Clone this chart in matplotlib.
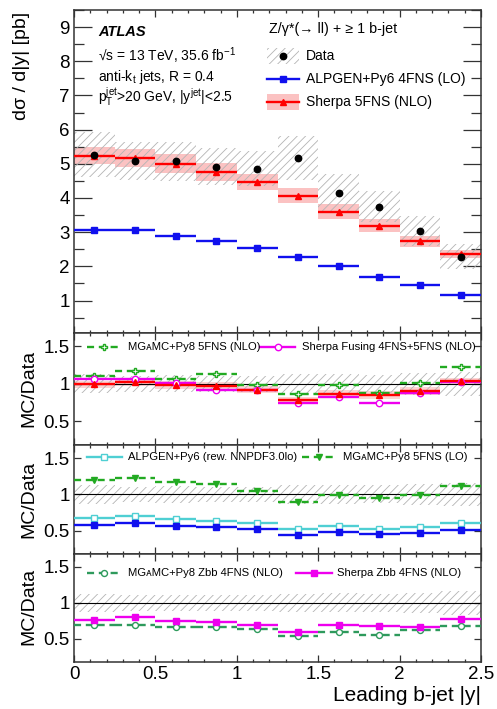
import numpy as np
import matplotlib
matplotlib.use('Agg')
import matplotlib.pyplot as plt
from matplotlib.patches import Rectangle
from matplotlib.lines import Line2D
from matplotlib.ticker import MultipleLocator, FuncFormatter, FixedLocator

plt.rcParams['font.family'] = ['Liberation Sans', 'DejaVu Sans']
plt.rcParams['mathtext.fontset'] = 'custom'
plt.rcParams['mathtext.rm'] = 'Liberation Sans'
plt.rcParams['mathtext.it'] = 'Liberation Sans:italic'
plt.rcParams['mathtext.bf'] = 'Liberation Sans:bold'
plt.rcParams['hatch.linewidth'] = 0.6

# ---------------- data ----------------
bin_edges = [0.0, 0.25, 0.5, 0.75, 1.0, 1.25, 1.5, 1.75, 2.0, 2.25, 2.5]

data = [5.26, 5.08, 5.08, 4.92, 4.86, 5.17, 4.16, 3.75, 3.04, 2.28]
data_err = [0.66, 0.55, 0.57, 0.53, 0.52, 0.65, 0.55, 0.46, 0.44, 0.37]
alpgen_4fns = [3.07, 3.05, 2.88, 2.74, 2.54, 2.27, 2.00, 1.69, 1.44, 1.17]
sherpa_5fns = [5.23, 5.17, 5.00, 4.76, 4.47, 4.07, 3.60, 3.19, 2.73, 2.36]
sherpa_5fns_err = [0.25, 0.25, 0.28, 0.27, 0.23, 0.21, 0.21, 0.185, 0.16, 0.11]

# ratio panel 1
mg5_5fns_nlo = [1.10, 1.17, 1.07, 1.13, 0.98, 0.86, 0.99, 0.87, 1.01, 1.22]
sherpa_fusing = [1.06, 1.07, 1.01, 0.92, 0.91, 0.74, 0.82, 0.74, 0.87, 1.03]
sherpa_fusing_err = [0.01, 0.01, 0.01, 0.01, 0.01, 0.015, 0.015, 0.04, 0.015, 0.01]
# ratio panel 2
mg5_5fns_lo = [1.20, 1.23, 1.17, 1.14, 1.05, 0.90, 0.99, 0.95, 0.99, 1.11]
alpgen_rew = [0.68, 0.70, 0.655, 0.64, 0.61, 0.52, 0.57, 0.52, 0.55, 0.61]
# ratio panel 3
mg5_zbb_4fns = [0.70, 0.70, 0.67, 0.67, 0.64, 0.545, 0.595, 0.56, 0.62, 0.685]
sherpa_zbb_4fns = [0.77, 0.80, 0.75, 0.74, 0.70, 0.60, 0.70, 0.68, 0.67, 0.775]

x_ticks = [0, 0.5, 1, 1.5, 2, 2.5]
ratio_ticks = [0.5, 1, 1.5]

# ---------------- helpers ----------------
edges = np.array(bin_edges)
lo, hi = edges[:-1], edges[1:]
centers = 0.5 * (lo + hi)
widths = hi - lo
d = np.array(data)
derr = np.array(data_err)

BLUE = '#1010ee'
RED = '#ff0000'
GREEN = '#22aa22'
SEAGREEN = '#2e9a5c'
MAGENTA = '#ee00ee'
CYAN = '#4fcfd3'
PINK = '#fbc2c2'
HATCH_C = '#b4b4b4'
DASH = (0, (3, 2))
LW = 1.7

W, H = 497, 709
fig = plt.figure(figsize=(W / 100, H / 100), dpi=100)


def px_axes(x0, y0, x1, y1):
    return fig.add_axes([x0 / W, 1 - y1 / H, (x1 - x0) / W, (y1 - y0) / H])


ax0 = px_axes(74, 10, 481, 333)
ax1 = px_axes(74, 333, 481, 445)
ax2 = px_axes(74, 445, 481, 554)
ax3 = px_axes(74, 554, 481, 662)

fmt = FuncFormatter(lambda v, p: f"{v:g}")

for ax in (ax0, ax1, ax2, ax3):
    ax.set_xlim(bin_edges[0], bin_edges[-1])
    ax.xaxis.set_major_locator(FixedLocator(x_ticks))
    ax.xaxis.set_minor_locator(MultipleLocator(0.1))
    ax.xaxis.set_major_formatter(fmt)
    ax.tick_params(axis='both', which='both', direction='in', top=True, right=True,
                   labelsize=13.5, width=0.9, color='#333333', pad=3)
    ax.tick_params(axis='x', which='major', length=5)
    ax.tick_params(axis='x', which='minor', length=2.5)
    for s in ax.spines.values():
        s.set_linewidth(1.1)
        s.set_color('#333333')
    if ax is not ax3:
        ax.tick_params(axis='x', labelbottom=False)

# ---------------- top panel ----------------
ax0.set_ylim(0.05, 9.5)
ax0.yaxis.set_major_locator(MultipleLocator(1))
ax0.yaxis.set_minor_locator(MultipleLocator(0.5))
ax0.yaxis.set_major_formatter(fmt)
ax0.tick_params(axis='y', which='major', length=13)
ax0.tick_params(axis='y', which='minor', length=7)
ax0.set_yticks([1, 2, 3, 4, 5, 6, 7, 8, 9])

sh = np.array(sherpa_5fns)
sherr = np.array(sherpa_5fns_err)
ax0.bar(centers, 2 * sherr, bottom=sh - sherr, width=widths, color=PINK, lw=0, zorder=1)
ax0.bar(centers, 2 * derr, bottom=d - derr, width=widths, fill=False, hatch='////',
        edgecolor=HATCH_C, lw=0, zorder=2)
ax0.hlines(sh, lo, hi, colors=RED, lw=LW, zorder=3)
ax0.plot(centers, sh, ls='none', marker='^', color=RED, ms=4.5, zorder=4)
ax0.hlines(alpgen_4fns, lo, hi, colors=BLUE, lw=LW, zorder=3)
ax0.plot(centers, alpgen_4fns, ls='none', marker='s', color=BLUE, ms=4.2, zorder=4)
ax0.plot(centers, d, ls='none', marker='o', color='black', ms=4.6, zorder=5)

# labels/text in top panel
t = ax0.transAxes
ax0.text(0.059, 0.932, 'ATLAS', transform=t, fontsize=10.5, fontweight='bold',
         style='italic', va='center', ha='left')
ax0.text(0.059, 0.858, '√s = 13 TeV, 35.6 fb$^{-1}$', transform=t, fontsize=10,
         va='center', ha='left')
ax0.text(0.059, 0.793, 'anti-k$_{\\mathrm{t}}$ jets, R = 0.4', transform=t, fontsize=10,
         va='center', ha='left')
ax0.text(0.059, 0.728, 'p$_{\\mathrm{T}}^{\\mathrm{jet}}$>20 GeV, |y$^{\\mathrm{jet}}$|<2.5',
         transform=t, fontsize=10, va='center', ha='left')

ax0.text(0.479, 0.941, 'Z/γ*(→ ll) + ≥ 1 b-jet', transform=t, fontsize=10.3,
         va='center', ha='left')
bx0, bx1, bh = 0.474, 0.553, 0.048
# Data entry
ax0.add_patch(Rectangle((bx0, 0.858 - bh / 2), bx1 - bx0, bh, transform=t, fill=False,
                        hatch='////', edgecolor=HATCH_C, lw=0, zorder=6))
ax0.add_line(Line2D([0.5 * (bx0 + bx1)], [0.858], transform=t, marker='o', color='black',
                    ms=4.6, ls='none', zorder=7))
ax0.text(0.570, 0.858, 'Data', transform=t, fontsize=10, va='center', ha='left')
# ALPGEN entry
ax0.add_line(Line2D([bx0, bx1], [0.786, 0.786], transform=t, color=BLUE, lw=LW, zorder=7))
ax0.add_line(Line2D([0.5 * (bx0 + bx1)], [0.786], transform=t, marker='s', color=BLUE,
                    ms=4.2, ls='none', zorder=7))
ax0.text(0.570, 0.786, 'ALPGEN+Py6 4FNS (LO)', transform=t, fontsize=10, va='center', ha='left')
# Sherpa entry
ax0.add_patch(Rectangle((bx0, 0.715 - bh / 2), bx1 - bx0, bh, transform=t, color=PINK,
                        lw=0, zorder=6))
ax0.add_line(Line2D([bx0, bx1], [0.715, 0.715], transform=t, color=RED, lw=LW, zorder=7))
ax0.add_line(Line2D([0.5 * (bx0 + bx1)], [0.715], transform=t, marker='^', color=RED,
                    ms=4.5, ls='none', zorder=7))
ax0.text(0.570, 0.715, 'Sherpa 5FNS (NLO)', transform=t, fontsize=10, va='center', ha='left')

# ---------------- ratio panels ----------------
rel = derr / d
for ax in (ax1, ax2, ax3):
    ax.set_ylim(0.18, 1.68)
    ax.set_yticks(ratio_ticks)
    ax.yaxis.set_major_formatter(fmt)
    ax.tick_params(axis='y', which='major', length=5)
    ax.tick_params(axis='y', which='minor', length=0)
    ax.bar(centers, 2 * rel, bottom=1 - rel, width=widths, fill=False, hatch='////',
           edgecolor=HATCH_C, lw=0, zorder=1)
    ax.axhline(1, color='black', lw=0.8, zorder=2)


def draw_mc(ax, vals, color, marker, ls='-', filled=True, ms=4.3, err=None):
    ax.hlines(vals, lo, hi, colors=color, linestyles=ls, lw=LW, zorder=3)
    if err is not None:
        ax.vlines(centers, np.array(vals) - np.array(err), np.array(vals) + np.array(err),
                  colors=color, lw=1.2, zorder=3)
    ax.plot(centers, vals, ls='none', marker=marker, mec=color,
            mfc=color if filled else 'white', mew=1.0, ms=ms, zorder=4)


def legend_entry(ax, x0, x1, y, text, tx, color, marker, ls='-', filled=True, ms=4.3):
    tt = ax.transAxes
    ax.add_line(Line2D([x0, x1], [y, y], transform=tt, color=color, lw=LW, ls=ls, zorder=6))
    ax.add_line(Line2D([0.5 * (x0 + x1)], [y], transform=tt, marker=marker, mec=color,
                       mfc=color if filled else 'white', mew=1.0, ms=ms, ls='none', zorder=7))
    ax.text(tx, y, text, transform=tt, fontsize=8.1, va='center', ha='left', zorder=7)


MG = 'MGᴀMC'

# panel 1
sh_ratio = sh / d
sh_ratio_err = sherr / d
ax1.bar(centers, 2 * sh_ratio_err, bottom=sh_ratio - sh_ratio_err, width=widths,
        color=PINK, alpha=0.7, lw=0, zorder=0.5)
draw_mc(ax1, mg5_5fns_nlo, GREEN, 'P', ls=DASH, filled=False, ms=5)
draw_mc(ax1, sherpa_fusing, MAGENTA, 'o', filled=False, ms=4.6, err=sherpa_fusing_err)
draw_mc(ax1, sh_ratio, RED, '^', ms=4.5)
legend_entry(ax1, 0.031, 0.117, 0.872, MG + '+Py8 5FNS (NLO)', 0.133, GREEN, 'P', ls=DASH,
             filled=False, ms=5)
legend_entry(ax1, 0.457, 0.543, 0.872, 'Sherpa Fusing 4FNS+5FNS (NLO)', 0.559, MAGENTA, 'o',
             filled=False, ms=4.6)

# panel 2
al_ratio = np.array(alpgen_4fns) / d
draw_mc(ax2, mg5_5fns_lo, GREEN, 'v', ls=DASH, ms=4.3)
draw_mc(ax2, alpgen_rew, CYAN, 's', filled=False, ms=4.5)
draw_mc(ax2, al_ratio, BLUE, 's', ms=4.2)
legend_entry(ax2, 0.031, 0.117, 0.893, 'ALPGEN+Py6 (rew. NNPDF3.0lo)', 0.133, CYAN, 's',
             filled=False, ms=4.5)
legend_entry(ax2, 0.559, 0.645, 0.893, MG + '+Py8 5FNS (LO)', 0.660, GREEN, 'v', ls=DASH, ms=4.3)

# panel 3
draw_mc(ax3, mg5_zbb_4fns, SEAGREEN, 'o', ls=DASH, filled=False, ms=4.3)
draw_mc(ax3, sherpa_zbb_4fns, MAGENTA, 's', ms=4.2)
legend_entry(ax3, 0.031, 0.117, 0.827, MG + '+Py8 Zbb 4FNS (NLO)', 0.133, SEAGREEN, 'o',
             ls=DASH, filled=False, ms=4.3)
legend_entry(ax3, 0.545, 0.633, 0.827, 'Sherpa Zbb 4FNS (NLO)', 0.645, MAGENTA, 's', ms=4.2)

# ---------------- axis labels ----------------
fig.text(22 / W, 1 - 12 / H, 'dσ / d|y| [pb]', rotation=90, fontsize=14, ha='center', va='top')
for ytop in (350, 461, 568):
    fig.text(29 / W, 1 - ytop / H, 'MC/Data', rotation=90, fontsize=14, ha='center', va='top')
fig.text(481 / W, 1 - 705 / H, 'Leading b-jet |y|', fontsize=15, ha='right', va='bottom')

fig.savefig('out.png', dpi=100)
